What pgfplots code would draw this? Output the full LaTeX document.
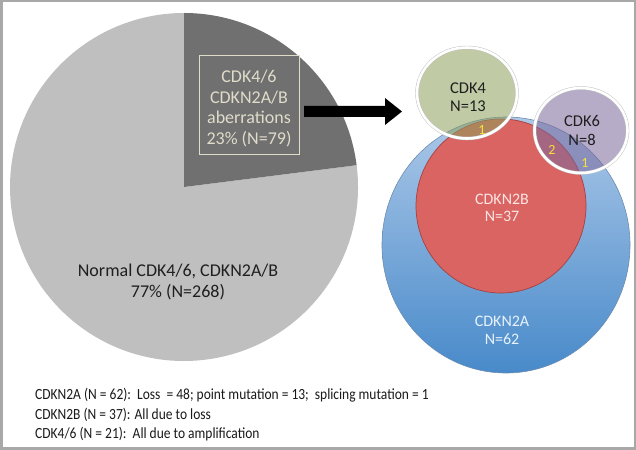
\documentclass[border=0pt]{standalone}
\usepackage{pgfplots}
\pgfplotsset{compat=1.18}
\usepackage{fontspec}
\setmainfont{Carlito}
\newfontfamily\narrowfont[FakeStretch=0.87]{Carlito}
\definecolor{pielight}{RGB}{191,191,191}
\definecolor{piedark}{RGB}{112,112,112}
\definecolor{pietext}{RGB}{224,220,202}
\definecolor{frame}{RGB}{168,168,168}
\definecolor{bluetop}{RGB}{172,200,232}
\definecolor{bluebot}{RGB}{72,138,202}
\definecolor{blueline}{RGB}{110,140,175}
\definecolor{redfill}{RGB}{217,100,98}
\definecolor{redline}{RGB}{165,65,65}
\definecolor{greenbase}{RGB}{140,159,90}
\definecolor{purplebase}{RGB}{124,104,155}
\definecolor{yel}{RGB}{245,225,60}
\begin{document}
\begin{tikzpicture}
% pie values (percent)
\def\pAberr{23}
\def\pNormal{77}
\pgfmathsetmacro{\aEnd}{90-\pAberr*3.6}
\begin{axis}[width=636bp, height=450bp, scale only axis,
  xmin=0, xmax=636, ymin=0, ymax=450, y dir=reverse,
  hide axis, clip=false]
% frame
\draw[frame, line width=2.5bp] (axis cs:1.25,1.25) rectangle (axis cs:634.75,448.75);
% pie
\fill[pielight] (axis cs:184,187) -- ++(\aEnd:174bp) arc[start angle=\aEnd, end angle=-270, radius=174bp] -- cycle;
\fill[piedark] (axis cs:184,187) -- ++(90:174bp) arc[start angle=90, end angle=\aEnd, radius=174bp] -- cycle;
\draw[pietext, line width=0.8bp] (axis cs:199,55) rectangle (axis cs:299,154);
\node[anchor=base, text=pietext, font=\fontsize{18bp}{22bp}\selectfont, inner sep=0pt] at (axis cs:249,83) {CDK4/6};
\node[anchor=base, text=pietext, font=\fontsize{18bp}{22bp}\selectfont, inner sep=0pt] at (axis cs:249,103.5) {CDKN2A/B};
\node[anchor=base, text=pietext, font=\fontsize{18bp}{22bp}\selectfont, inner sep=0pt] at (axis cs:249,124) {aberrations};
\node[anchor=base, text=pietext, font=\fontsize{18bp}{22bp}\selectfont, inner sep=0pt] at (axis cs:249,145) {\pAberr\% (N=79)};
\node[anchor=base, text=black!88, font=\fontsize{18bp}{22bp}\selectfont, inner sep=0pt] at (axis cs:178,277) {Normal CDK4/6, CDKN2A/B};
\node[anchor=base, text=black!88, font=\fontsize{18bp}{22bp}\selectfont, inner sep=0pt] at (axis cs:178,298) {\pNormal\% (N=268)};
% arrow
\fill[black] (axis cs:304,106) -- (axis cs:385,106) -- (axis cs:385,98) -- (axis cs:402,111.5) -- (axis cs:385,125) -- (axis cs:385,117) -- (axis cs:304,117) -- cycle;
% Venn
\shade[top color=bluetop, bottom color=bluebot, draw=blueline, line width=0.6bp] (axis cs:506,245) ellipse [x radius=124bp, y radius=128bp];
\fill[redfill] (axis cs:501,206) ellipse [x radius=85bp, y radius=87bp];
\draw[redline, line width=0.7bp] (axis cs:501,206) ellipse [x radius=85bp, y radius=87bp];
\fill[greenbase, fill opacity=0.55] (axis cs:467,93) ellipse [x radius=50bp, y radius=45.5bp];
\fill[purplebase, fill opacity=0.55] (axis cs:581,130.5) ellipse [x radius=46.5bp, y radius=42.5bp];
\draw[black!25, line width=3.5bp] (axis cs:467,93) ellipse [x radius=50bp, y radius=45.5bp];
\draw[white, line width=2.6bp] (axis cs:467,93) ellipse [x radius=50bp, y radius=45.5bp];
\draw[black!25, line width=3.5bp] (axis cs:581,130.5) ellipse [x radius=46.5bp, y radius=42.5bp];
\draw[white, line width=2.6bp] (axis cs:581,130.5) ellipse [x radius=46.5bp, y radius=42.5bp];
\node[anchor=base, text=black!88, font=\fontsize{16.5bp}{20bp}\selectfont, inner sep=0pt] at (axis cs:468,94) {CDK4};
\node[anchor=base, text=black!88, font=\fontsize{16.5bp}{20bp}\selectfont, inner sep=0pt] at (axis cs:468,112) {N=13};
\node[anchor=base, text=black!88, font=\fontsize{16.5bp}{20bp}\selectfont, inner sep=0pt] at (axis cs:582,127) {CDK6};
\node[anchor=base, text=black!88, font=\fontsize{16.5bp}{20bp}\selectfont, inner sep=0pt] at (axis cs:582,146) {N=8};
\node[anchor=base, text={rgb,255:red,252;green,228;blue,228}, font=\fontsize{16bp}{20bp}\selectfont, inner sep=0pt] at (axis cs:502,205) {CDKN2B};
\node[anchor=base, text={rgb,255:red,252;green,228;blue,228}, font=\fontsize{16bp}{20bp}\selectfont, inner sep=0pt] at (axis cs:502,222) {N=37};
\node[anchor=base, text={rgb,255:red,232;green,242;blue,252}, font=\fontsize{16bp}{20bp}\selectfont, inner sep=0pt] at (axis cs:502,327) {CDKN2A};
\node[anchor=base, text={rgb,255:red,232;green,242;blue,252}, font=\fontsize{16bp}{20bp}\selectfont, inner sep=0pt] at (axis cs:502,345) {N=62};
\node[text=yel, font=\fontsize{14bp}{16bp}\selectfont, inner sep=0pt] at (axis cs:482,130) {1};
\node[text=yel, font=\fontsize{14bp}{16bp}\selectfont, inner sep=0pt] at (axis cs:552,150) {2};
\node[text=yel, font=\fontsize{14bp}{16bp}\selectfont, inner sep=0pt] at (axis cs:585,163) {1};
% notes
\node[anchor=base west, text=black!90, font=\narrowfont\fontsize{15.5bp}{19bp}\selectfont, inner sep=0pt] at (axis cs:35,399.5) {CDKN2A (N = 62):\ \ Loss\ \ = 48; point mutation = 13;\ \ splicing mutation = 1};
\node[anchor=base west, text=black!90, font=\narrowfont\fontsize{15.5bp}{19bp}\selectfont, inner sep=0pt] at (axis cs:35,419.5) {CDKN2B (N = 37): All due to loss};
\node[anchor=base west, text=black!90, font=\narrowfont\fontsize{15.5bp}{19bp}\selectfont, inner sep=0pt] at (axis cs:35,439) {CDK4/6 (N = 21):\ \ All due to amplification};
\end{axis}
\end{tikzpicture}
\end{document}
